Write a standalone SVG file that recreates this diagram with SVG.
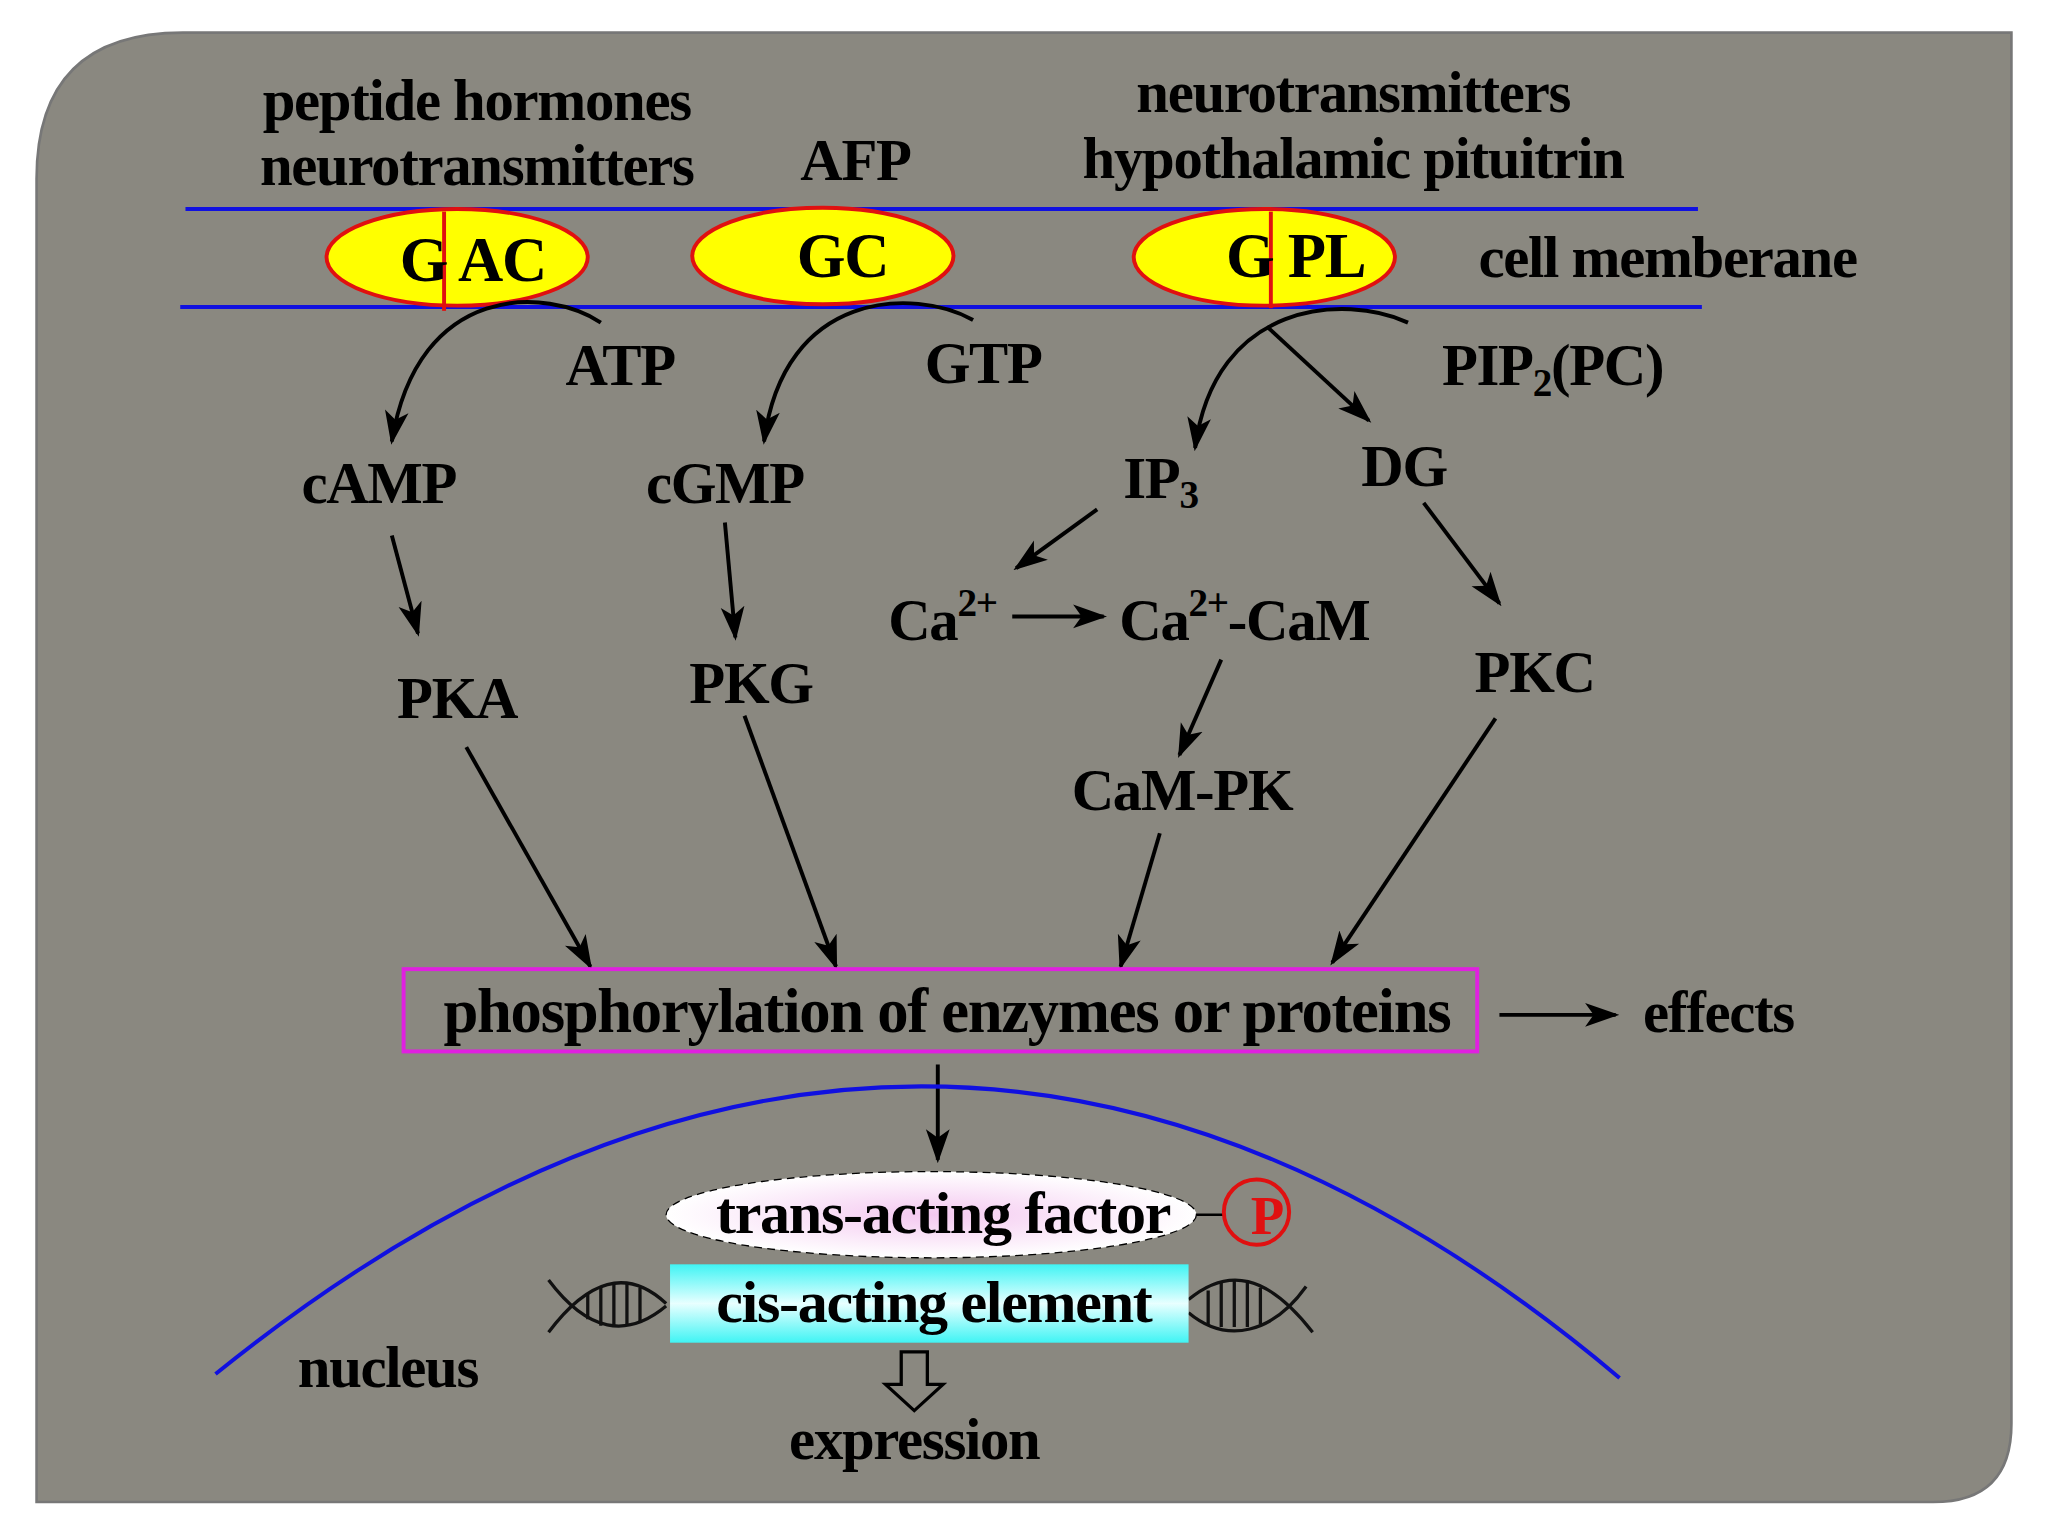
<svg xmlns="http://www.w3.org/2000/svg" width="2048" height="1536" viewBox="0 0 2048 1536">
<defs>
<marker id="ahb" viewBox="0 0 10 10" refX="9" refY="5" markerWidth="26" markerHeight="26" orient="auto" markerUnits="userSpaceOnUse">
<path d="M0,1.5 L10,5 L0,8.5 L2.5,5 z" fill="#000"/>
</marker>
<radialGradient id="pink"><stop offset="0" stop-color="#f4c8f0"/><stop offset="1" stop-color="#ffffff"/></radialGradient>
<linearGradient id="cy" x1="0" y1="0" x2="0" y2="1"><stop offset="0" stop-color="#40f4f4"/><stop offset="0.5" stop-color="#e8ffff"/><stop offset="1" stop-color="#40f4f4"/></linearGradient>
</defs>
<style>
text{font-family:'Liberation Serif','DejaVu Serif',serif;font-weight:bold;fill:#000;letter-spacing:-1px}
.t{font-size:45px}
.m{text-anchor:middle}
.a{fill:none;stroke:#000;stroke-width:3;marker-end:url(#ahb)}
.blue{stroke:#1010e0;stroke-width:3;fill:none}
.mem{fill:#ffff00;stroke:#e01010;stroke-width:3}
</style>
<rect width="2048" height="1536" fill="#fff"/>
<g transform="scale(1.30612)">
<path d="M140,25 H1540 V1090 Q1540,1150 1480,1150 H28 V137 Q28,25 140,25 z" fill="#8a8880" stroke="#777" stroke-width="2"/>
<g id="signals">
<text class="t m" x="365" y="92">peptide hormones</text>
<text class="t m" x="365" y="142">neurotransmitters</text>
<text class="t m" x="655" y="138">AFP</text>
<text class="t m" x="1036" y="86">neurotransmitters</text>
<text class="t m" x="1036" y="136">hypothalamic pituitrin</text>
</g>
<g id="membrane">
<line class="blue" x1="142" y1="160" x2="1300" y2="160"/>
<line class="blue" x1="138" y1="235" x2="1303" y2="235"/>
<text class="t" x="1132" y="212">cell memberane</text>
</g>
<g id="GAC"><ellipse class="mem" cx="350" cy="197" rx="100" ry="37"/><line x1="340" y1="162" x2="340" y2="238" stroke="#e01010" stroke-width="3"/><text class="m" x="362" y="215" font-size="48">G AC</text></g>
<g id="GC"><ellipse class="mem" cx="630" cy="196" rx="100" ry="37"/><text class="m" x="645" y="212" font-size="48">GC</text></g>
<g id="GPL"><ellipse class="mem" cx="968" cy="197" rx="100" ry="37"/><line x1="973" y1="162" x2="973" y2="236" stroke="#e01010" stroke-width="3"/><text class="m" x="992" y="212" font-size="48">G PL</text></g>
<g id="labels">
<text class="t" x="433" y="295">ATP</text>
<text class="t" x="708" y="293">GTP</text>
<text class="t" x="1104" y="295">PIP<tspan font-size="30" dy="8">2</tspan><tspan dy="-8">(PC)</tspan></text>
<text class="t m" x="290" y="385">cAMP</text>
<text class="t m" x="555" y="385">cGMP</text>
<text class="t" x="860" y="381">IP<tspan font-size="30" dy="8">3</tspan></text>
<text class="t m" x="1075" y="372">DG</text>
<text class="t" x="680" y="490">Ca<tspan font-size="30" dy="-18">2+</tspan></text>
<text class="t" x="857" y="490">Ca<tspan font-size="30" dy="-18">2+</tspan><tspan dy="18">-CaM</tspan></text>
<text class="t m" x="350" y="550">PKA</text>
<text class="t m" x="575" y="538">PKG</text>
<text class="t m" x="1175" y="530">PKC</text>
<text class="t m" x="905" y="620">CaM-PK</text>
<text class="t" x="1258" y="790">effects</text>
<text class="t" x="228" y="1062">nucleus</text>
<text class="t m" x="700" y="1117">expression</text>
</g>
<g id="connectors">
<path class="a" d="M460,247 C420,220 320,215 300,338"/>
<path class="a" d="M745,245 C700,220 600,222 585,338"/>
<path class="a" d="M1078,247 C1030,225 930,230 915,343"/>
<path class="a" d="M970,250 L1048,322"/>
<path class="a" d="M300,410 L320,485"/>
<path class="a" d="M555,400 L563,488"/>
<path class="a" d="M840,390 L778,435"/>
<path class="a" d="M1090,385 L1148,462"/>
<path class="a" d="M775,472 L845,472"/>
<path class="a" d="M935,505 L903,578"/>
<path class="a" d="M357,572 L452,740"/>
<path class="a" d="M570,548 L640,740"/>
<path class="a" d="M888,638 L858,740"/>
<path class="a" d="M1145,550 L1020,737"/>
<path class="a" d="M1148,777 L1237,777"/>
<path class="a" d="M718,815 L718,888"/>
<line x1="910" y1="930" x2="937" y2="930" stroke="#000" stroke-width="2"/>
<path d="M690,1035 H710 V1060 H722 L700,1080 L678,1060 H690 z" fill="none" stroke="#000" stroke-width="2.5"/>
</g>
<g id="box"><rect x="309" y="742" width="822" height="63" fill="none" stroke="#e020e0" stroke-width="3"/>
<text class="m" x="725" y="790" font-size="48">phosphorylation of enzymes or proteins</text></g>
<path class="blue" d="M165,1052 Q712,610 1240,1055"/>
<g id="trans"><ellipse cx="713" cy="930" rx="203" ry="33" fill="url(#pink)" stroke="#000" stroke-width="1" stroke-dasharray="6 4"/>
<text class="m" x="722" y="944" font-size="46">trans-acting factor</text></g>
<g id="P"><circle cx="962" cy="928" r="25" fill="none" stroke="#e01010" stroke-width="3"/><text class="m" x="970" y="945" font-size="42" style="fill:#e01010">P</text></g>
<g id="dna" fill="none" stroke="#111" stroke-width="2.5">
<path d="M420,1020 C450,980 480,970 510,998 M420,980 C450,1020 480,1025 510,1000"/>
<path d="M450,990 v20 M460,985 v30 M470,982 v34 M480,983 v32 M490,986 v26"/>
<path d="M910,995 C940,970 970,975 1005,1020 M910,1005 C940,1030 975,1020 1000,985"/>
<path d="M925,988 v26 M935,982 v34 M945,980 v36 M955,982 v34 M965,986 v28"/>
</g>
<g id="cis"><rect x="513" y="968" width="397" height="60" fill="url(#cy)"/>
<text class="m" x="715" y="1012" font-size="46">cis-acting element</text></g>
</g>
</svg>
